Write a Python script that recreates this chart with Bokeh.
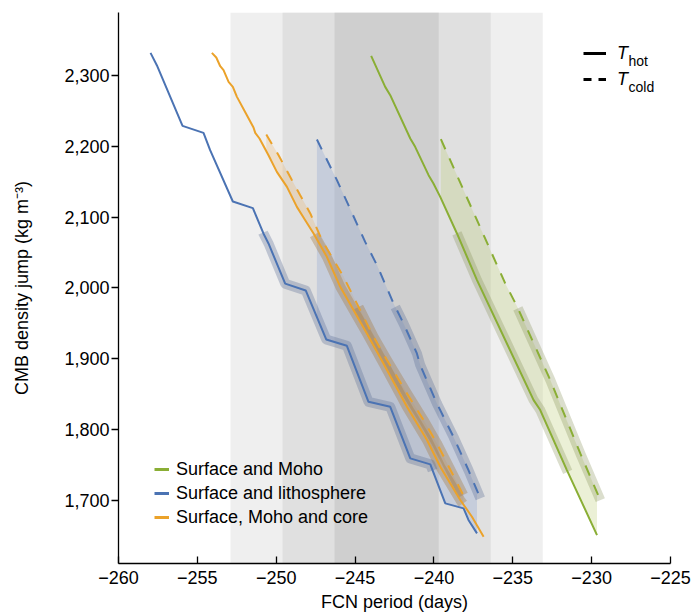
import numpy as np
from bokeh.plotting import figure
from bokeh.models import (Range1d, FixedTicker, NumeralTickFormatter, CustomJSTickFormatter,
                          BoxAnnotation, Legend, LegendItem, Label)
from bokeh.embed import file_html
from bokeh.resources import INLINE

# ---------------------------------------------------------------------------
# FCN period (days) against CMB density jump (kg m^-3) for each interior model
# "hot" = T_hot profile (solid), "cold" = T_cold profile (dashed)
# ---------------------------------------------------------------------------
moho_hot_x = [-243.98, -243.09, -242.77, -241.50, -241.19, -240.34, -240.03, -239.60,
              -238.54, -237.27, -233.68, -233.26, -231.57, -229.66]
moho_hot_y = [2327.7, 2283.9, 2272.2, 2211.0, 2199.2, 2159.2, 2147.5, 2128.5,
              2076.8, 2010.9, 1841.4, 1827.3, 1742.5, 1650.7]
moho_cold_x = [-239.56, -235.48, -234.72, -232.62, -230.72, -229.45]
moho_cold_y = [2210.0, 2006.2, 1973.2, 1869.6, 1766.0, 1700.0]

litho_hot_x = [-257.97, -257.57, -255.94, -254.61, -254.19, -252.75, -251.48, -250.81,
               -250.49, -249.43, -248.13, -246.83, -245.52, -244.15, -242.77, -241.50,
               -240.23, -239.28, -238.12, -237.81, -237.27]
litho_hot_y = [2331.9, 2314.5, 2228.8, 2218.9, 2194.5, 2122.0, 2112.6, 2076.8,
               2062.7, 2005.9, 1996.3, 1927.1, 1918.1, 1839.0, 1831.9, 1759.0,
               1750.6, 1695.5, 1688.4, 1672.0, 1653.1]
litho_cold_x = [-247.42, -246.15, -245.42, -244.36, -243.61, -242.56, -241.93, -241.08,
                -240.87, -239.81, -238.76, -237.81, -237.06]
litho_cold_y = [2209.6, 2152.1, 2116.8, 2064.9, 2032.0, 1977.9, 1949.7, 1907.3,
                1890.8, 1836.6, 1789.4, 1742.4, 1702.5]

core_hot_x = [-254.08, -253.80, -253.55, -253.34, -253.02, -252.75, -252.49, -251.86,
              -251.44, -251.33, -251.06, -250.49, -249.96, -249.32, -248.69, -248.16,
              -247.63, -246.79, -245.94, -245.10, -244.25, -243.20, -241.71, -240.44,
              -239.60, -238.33, -237.59, -236.85]
core_hot_y = [2331.9, 2325.4, 2313.1, 2307.5, 2291.0, 2283.9, 2269.8, 2243.9,
              2226.6, 2218.9, 2211.0, 2187.4, 2163.8, 2142.7, 2114.4, 2095.6,
              2076.8, 2043.8, 2001.4, 1968.5, 1935.6, 1893.2, 1831.9, 1784.9,
              1747.2, 1700.2, 1676.6, 1648.3]
core_cold_x = [-250.63, -249.85, -249.00, -248.48, -247.84, -247.10, -245.73, -245.10,
               -243.83, -242.98, -241.71, -240.66, -239.81, -238.14]
core_cold_y = [2216.7, 2187.4, 2152.1, 2130.9, 2105.1, 2067.4, 2015.5, 1987.3,
               1930.8, 1897.9, 1850.8, 1813.1, 1780.2, 1707.2]

# density-jump windows highlighted along each curve (low, high)
moho_hot_window = (1740.0, 2077.0)
moho_cold_window = (1700.0, 1971.0)
litho_hot_window = (1742.0, 2078.0)
litho_cold_window = (1700.0, 1973.0)
core_hot_window = (1695.0, 2075.0)
core_cold_window = (1700.0, 1973.0)

# observed FCN period and its 1, 2, 3 sigma ranges (days)
fcn_center = -243.0
fcn_sigma = [3.3, 6.6, 9.9]

series_labels = ["Surface and Moho", "Surface and lithosphere", "Surface, Moho and core"]

x_ticks = [-260, -255, -250, -245, -240, -235, -230, -225]
y_ticks = [1700, 1800, 1900, 2000, 2100, 2200, 2300]

FONT = "Liberation Sans"
GREEN, BLUE, ORANGE = "#8aae35", "#4b73b3", "#eba22a"


def y_window(xs, ys, lo, hi):
    """Part of a curve (density decreasing along it) between two density values."""
    xr = np.asarray(xs, float)[::-1]
    yr = np.asarray(ys, float)[::-1]
    lo, hi = max(lo, yr[0]), min(hi, yr[-1])
    inside = (yr > lo) & (yr < hi)
    yy = np.concatenate([[lo], yr[inside], [hi]])
    return np.interp(yy, yr, xr), yy


def between(hx, hy, cx, cy):
    """Band enclosed by the hot and cold curves over the cold curve's period range."""
    x0, x1 = cx[0], min(cx[-1], hx[-1])
    grid = np.unique(np.concatenate([[x0, x1], hx, cx]))
    grid = grid[(grid >= x0) & (grid <= x1)]
    return grid, np.interp(grid, hx, hy), np.interp(grid, cx, cy)


p = figure(width=700, height=616,
           x_range=Range1d(-260, -225), y_range=Range1d(1610.5, 2389),
           output_backend="svg", toolbar_location=None,
           min_border_left=118, min_border_right=30,
           min_border_top=12, min_border_bottom=53)
p.outline_line_color = None
p.grid.visible = False

# shaded ranges of the observed period
for sig, col in zip(sorted(fcn_sigma, reverse=True), ["#efefef", "#e0e0e0", "#cfcfcf"]):
    p.add_layout(BoxAnnotation(left=fcn_center - sig, right=fcn_center + sig,
                               fill_color=col, fill_alpha=1.0, line_alpha=0,
                               level="underlay"))

models = [
    dict(hx=core_hot_x, hy=core_hot_y, cx=core_cold_x, cy=core_cold_y,
         hw=core_hot_window, cw=core_cold_window, color=ORANGE,
         fill="#e6aa5a", fill_alpha=0.25, band="#a47c48", band_alpha=0.38),
    dict(hx=litho_hot_x, hy=litho_hot_y, cx=litho_cold_x, cy=litho_cold_y,
         hw=litho_hot_window, cw=litho_cold_window, color=BLUE,
         fill="#96aad2", fill_alpha=0.35, band="#5a6e94", band_alpha=0.33),
    dict(hx=moho_hot_x, hy=moho_hot_y, cx=moho_cold_x, cy=moho_cold_y,
         hw=moho_hot_window, cw=moho_cold_window, color=GREEN,
         fill="#becd78", fill_alpha=0.3, band="#7d8a4a", band_alpha=0.28),
]

for m in models:
    gx, g1, g2 = between(m["hx"], m["hy"], m["cx"], m["cy"])
    p.varea(x=gx, y1=g1, y2=g2, fill_color=m["fill"], fill_alpha=m["fill_alpha"])

for m in models:
    for xs, ys, win in ((m["hx"], m["hy"], m["hw"]), (m["cx"], m["cy"], m["cw"])):
        bx, by = y_window(xs, ys, *win)
        p.line(bx, by, line_color=m["band"], line_alpha=m["band_alpha"],
               line_width=10, line_cap="butt", line_join="round")

for m in [models[1], models[0], models[2]]:
    p.line(m["hx"], m["hy"], line_color=m["color"], line_width=2)
    p.line(m["cx"], m["cy"], line_color=m["color"], line_width=2, line_dash="11 10")

# axes
for ax in (p.xaxis[0], p.yaxis[0]):
    ax.axis_line_width = 1.3
    ax.major_tick_line_width = 1.3
    ax.minor_tick_line_color = None
    ax.major_label_text_font = FONT
    ax.major_label_text_font_size = "18px"
    ax.major_label_text_color = "black"
    ax.axis_label_text_font = FONT
    ax.axis_label_text_font_size = "18px"
    ax.axis_label_text_font_style = "normal"
    ax.axis_label_text_color = "black"
    ax.axis_line_color = "black"
    ax.major_tick_line_color = "black"

p.xaxis.ticker = FixedTicker(ticks=x_ticks)
p.xaxis.formatter = CustomJSTickFormatter(
    code="return (tick < 0 ? '\\u2212' : '') + Math.abs(tick).toFixed(0);")
p.xaxis.major_tick_in = 7
p.xaxis.major_tick_out = 0
p.xaxis.major_label_standoff = 7
p.xaxis.axis_label = "FCN period (days)"
p.xaxis.axis_label_standoff = 5

p.yaxis.ticker = FixedTicker(ticks=y_ticks)
p.yaxis.formatter = NumeralTickFormatter(format="0,0")
p.yaxis.major_tick_in = 0
p.yaxis.major_tick_out = 7
p.yaxis.major_label_standoff = 2
p.yaxis.axis_label = "CMB density jump (kg m\u207b\u00b3)"
p.yaxis.axis_label_standoff = 29

# legend keys: off-canvas placeholder lines (NaN) that only lend their style to the legends
nan2 = [np.nan, np.nan]
key_renderers = [p.line(nan2, nan2, line_color=c, line_width=3) for c in (GREEN, BLUE, ORANGE)]
models_legend = Legend(
    items=[LegendItem(label=lab, renderers=[r]) for lab, r in zip(series_labels, key_renderers)],
    location=(36, 34), orientation="vertical",
    glyph_width=15, glyph_height=24, label_height=24, label_standoff=7, spacing=0,
    padding=0, margin=0, border_line_alpha=0, background_fill_alpha=0,
    label_text_font=FONT, label_text_font_size="18px", label_text_color="black")
p.add_layout(models_legend)

hot_key = p.line(nan2, nan2, line_color="black", line_width=3)
cold_key = p.line(nan2, nan2, line_color="black", line_width=3, line_dash="8 7")
temp_legend = Legend(
    items=[LegendItem(label="T", renderers=[hot_key]), LegendItem(label="T", renderers=[cold_key])],
    location=(465, 471), orientation="vertical",
    glyph_width=23, glyph_height=26, label_height=26, label_standoff=11, spacing=0,
    padding=0, margin=0, border_line_alpha=0, background_fill_alpha=0,
    label_text_font=FONT, label_text_font_size="18px", label_text_font_style="italic",
    label_text_color="black")
p.add_layout(temp_legend)

for sub, ybase in (("hot", 503), ("cold", 477)):
    p.add_layout(Label(x=510, y=ybase, x_units="screen", y_units="screen", text=sub,
                       text_font=FONT, text_font_size="14px", text_color="black",
                       text_baseline="alphabetic", text_align="left"))

open("out.html", "w").write(file_html(p, INLINE))
